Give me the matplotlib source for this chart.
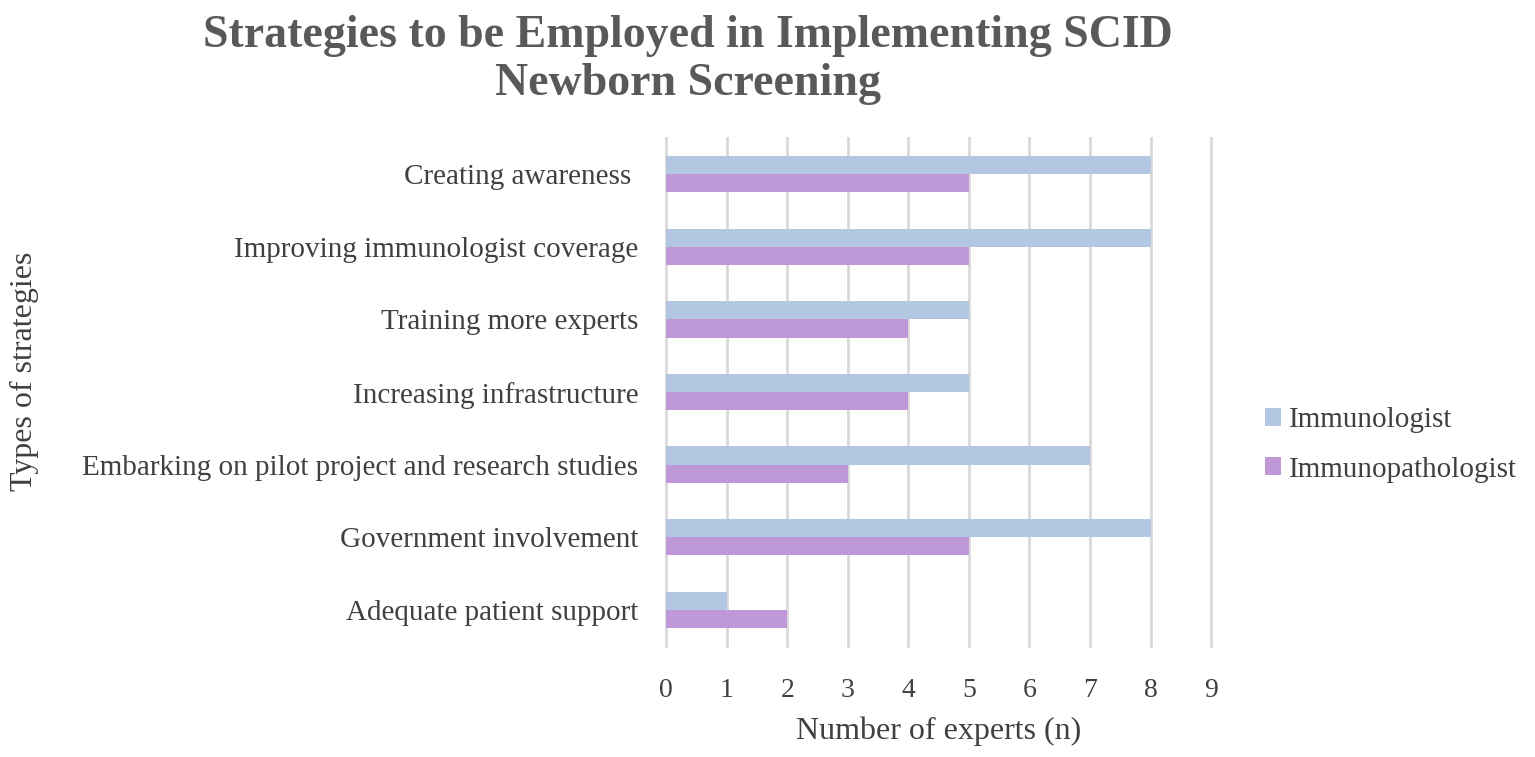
import matplotlib.pyplot as plt
import numpy as np

plt.rcParams['font.family'] = ['Liberation Serif', 'DejaVu Serif']

categories = ['Creating awareness ', 'Improving immunologist coverage', 'Training more experts',
              'Increasing infrastructure', 'Embarking on pilot project and research studies',
              'Government involvement', 'Adequate patient support']
immunologist = [8, 8, 5, 5, 7, 8, 1]
immunopathologist = [5, 5, 4, 4, 3, 5, 2]
xticks = list(range(0, 10))

text_col = '#404040'
blue = '#b4c7e2'
purple = '#bf98d8'

fig = plt.figure(figsize=(15.35, 7.57), dpi=100)
ax = fig.add_axes([0.434, 0.1466, 0.355, 0.671])

y = np.arange(len(categories))
h = 0.25
ax.barh(y - h / 2, immunologist, height=h, color=blue, label='Immunologist', zorder=3)
ax.barh(y + h / 2, immunopathologist, height=h, color=purple, label='Immunopathologist', zorder=3)

ax.set_ylim(len(categories) - 0.5, -0.5)
ax.set_xlim(0, 9)
ax.set_xticks(xticks)
ax.set_yticks(y)
ax.set_yticklabels(categories)
ax.tick_params(axis='y', length=0, colors=text_col, labelsize=21, pad=20)
ax.tick_params(axis='x', length=0, colors=text_col, labelsize=20, pad=23)
for s in ax.spines.values():
    s.set_visible(False)
ax.grid(axis='x', color='#d9d9d9', linewidth=2, zorder=0)
for gl in ax.get_xgridlines():
    gl.set_clip_on(False)

ax.set_xlabel('Number of experts (n)', fontsize=23, color=text_col, labelpad=10)
fig.text(0.016, 0.509, 'Types of strategies', rotation=90, fontsize=23, color=text_col,
         ha='center', va='center')

fig.text(0.448, 0.921, 'Strategies to be Employed in Implementing SCID\nNewborn Screening',
         ha='center', va='center', fontsize=33, fontweight='bold', color='#595959',
         linespacing=1.17)

ax.legend(loc='center left', bbox_to_anchor=(1.05, 0.396), frameon=False, fontsize=21,
          handlelength=0.55, handleheight=0.55, handletextpad=0.3, labelspacing=0.8,
          labelcolor=text_col)

fig.savefig('out.png', dpi=100)
